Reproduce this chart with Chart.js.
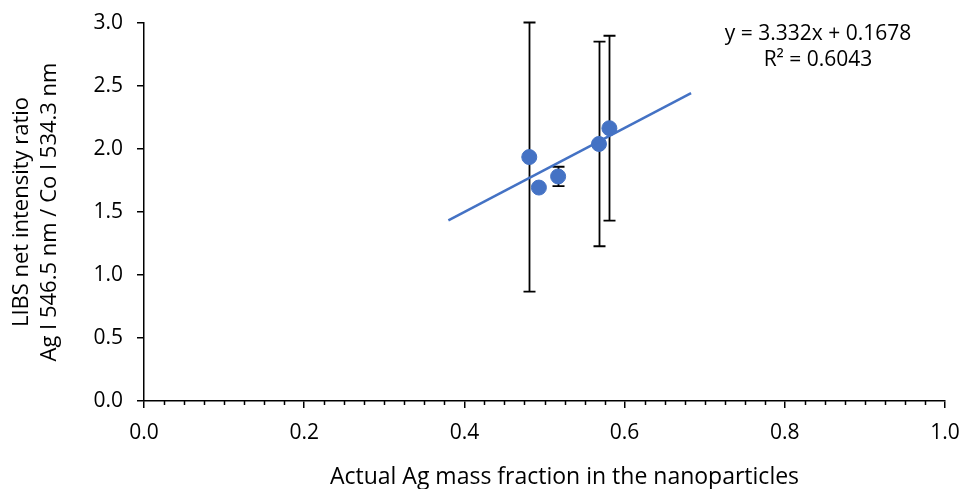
<!DOCTYPE html>
<html><head><meta charset="utf-8">
<script src="https://cdn.jsdelivr.net/npm/chart.js@4"></script>
<style>html,body{margin:0;padding:0;background:#fff}#wrap{width:964px;height:489px;position:relative}</style>
</head><body><div id="wrap"><canvas id="c" width="964" height="489"></canvas></div>
<script>
const massFraction = [0.481, 0.493, 0.517, 0.568, 0.581];
const intensityRatio = [1.936, 1.694, 1.782, 2.040, 2.165];
const errorBars = [1.068, 0, 0.077, 0.812, 0.734];
const trendX = [0.38, 0.683];
const trendY = [1.434, 2.443];
const equationLines = ['y = 3.332x + 0.1678', 'R\u00b2 = 0.6043'];
const xTitle = 'Actual Ag mass fraction in the nanoparticles';
const yTitle = ['LIBS net intensity ratio', 'Ag I 546.5 nm / Co I 534.3 nm'];

const FONT = '"Open Sans", Lato, sans-serif';
const BLUE = '#4472C4';

const points = massFraction.map((x, i) => ({x, y: intensityRatio[i]}));
const trend = trendX.map((x, i) => ({x, y: trendY[i]}));

const extras = {
  id: 'extras',
  beforeDatasetsDraw(chart) {
    const {ctx, scales: {x, y}} = chart;
    ctx.save();
    ctx.strokeStyle = '#000';
    ctx.lineWidth = 1.8;
    massFraction.forEach((mx, i) => {
      const e = errorBars[i];
      if (!e) return;
      const px = Math.round(x.getPixelForValue(mx)) + 0.5;
      const top = y.getPixelForValue(intensityRatio[i] + e);
      const bot = y.getPixelForValue(intensityRatio[i] - e);
      ctx.beginPath();
      ctx.moveTo(px, top); ctx.lineTo(px, bot);
      ctx.moveTo(px - 6, top); ctx.lineTo(px + 6, top);
      ctx.moveTo(px - 6, bot); ctx.lineTo(px + 6, bot);
      ctx.stroke();
    });
    ctx.restore();
  },
  afterDraw(chart) {
    const {ctx, scales: {x, y}, chartArea} = chart;
    ctx.save();
    ctx.strokeStyle = '#000';
    ctx.lineWidth = 1.5;
    ctx.beginPath();
    for (let k = 0; k <= 40; k++) {
      if (k % 8 === 0) continue;
      const px = Math.round(x.getPixelForValue(k * 0.025)) + 0.5;
      ctx.moveTo(px, chartArea.bottom);
      ctx.lineTo(px, chartArea.bottom + 4);
    }
    ctx.stroke();
    ctx.fillStyle = '#000';
    ctx.textAlign = 'center';
    ctx.textBaseline = 'middle';
    ctx.font = '21px ' + FONT;
    ctx.fillText(equationLines[0], chartArea.right - 127, chartArea.top + 11);
    ctx.fillText(equationLines[1], chartArea.right - 127, chartArea.top + 37);
    ctx.font = '23px ' + FONT;
    ctx.fillText(xTitle, (chartArea.left + chartArea.right) / 2 + 20, chartArea.bottom + 76);
    ctx.restore();
  }
};

new Chart(document.getElementById('c'), {
  type: 'scatter',
  data: {
    datasets: [
      {
        type: 'line',
        data: trend,
        borderColor: BLUE,
        borderWidth: 2.5,
        pointRadius: 0,
        fill: false
      },
      {
        data: points,
        backgroundColor: BLUE,
        borderColor: BLUE,
        pointRadius: 7.5,
        pointHoverRadius: 7.5
      }
    ]
  },
  options: {
    responsive: false,
    animation: false,
    devicePixelRatio: 1,
    layout: {padding: {top: 23, right: 19, left: 0, bottom: 0}},
    plugins: {legend: {display: false}, tooltip: {enabled: false}},
    scales: {
      x: {
        type: 'linear', min: 0, max: 1,
        ticks: {stepSize: 0.2, color: '#000', font: {family: FONT, size: 21}, padding: 12,
          callback: v => v.toFixed(1)},
        grid: {drawOnChartArea: false, color: '#000', tickLength: 7, tickWidth: 1.5, lineWidth: 1.5},
        border: {color: '#000', width: 1.5},
        title: {display: false},
        afterFit(s) { s.height = 88; s.paddingLeft = 0; s.paddingRight = 0; }
      },
      y: {
        type: 'linear', min: 0, max: 3,
        ticks: {stepSize: 0.5, color: '#000', font: {family: FONT, size: 21}, padding: 14,
          callback: v => v.toFixed(1)},
        grid: {drawOnChartArea: false, color: '#000', tickLength: 7, tickWidth: 1.5, lineWidth: 1.5},
        border: {color: '#000', width: 1.5},
        title: {display: true, text: yTitle, color: '#000', font: {family: FONT, size: 22, lineHeight: 1.27}, padding: {top: 8, bottom: 0}},
        afterFit(s) { s.width = 144; s.paddingTop = 0; s.paddingBottom = 0; }
      }
    }
  },
  plugins: [extras]
});
</script></body></html>
